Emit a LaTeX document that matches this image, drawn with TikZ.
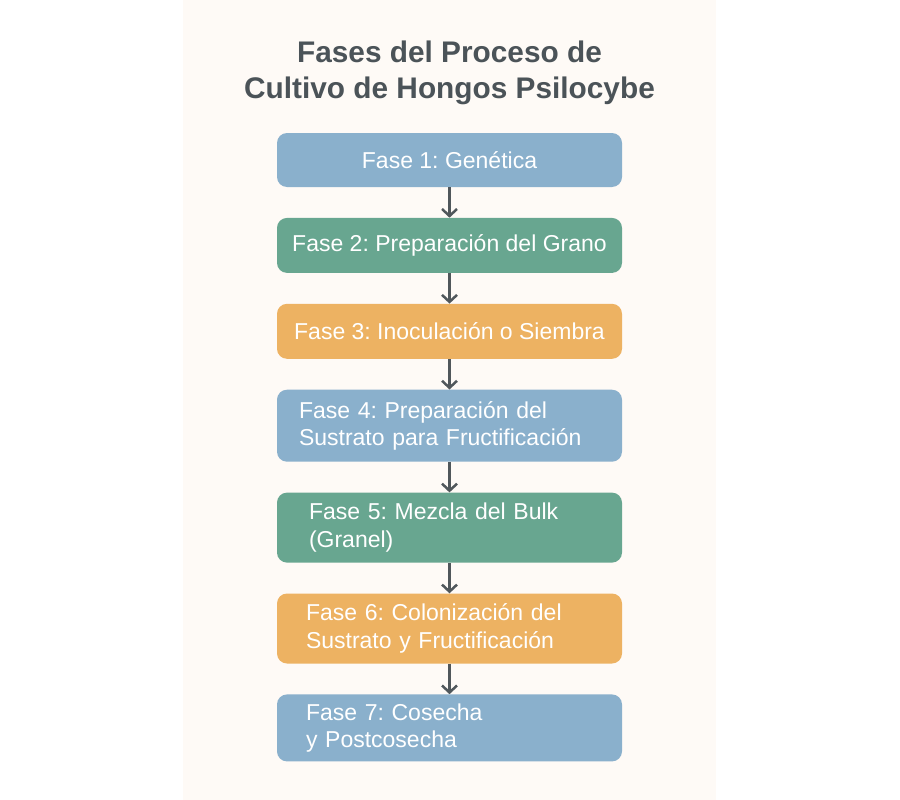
\documentclass[tikz,border=0pt]{standalone}
\usepackage{fontspec}
\setmainfont{Liberation Sans}
\usepackage{tikz}
\usetikzlibrary{arrows.meta}
\usetikzlibrary{positioning}
\frenchspacing
\definecolor{crema}{HTML}{FEFAF6}
\definecolor{tinta}{HTML}{4B5358}
\definecolor{flechagris}{HTML}{50575B}
\definecolor{azul}{HTML}{8AB0CC}
\definecolor{verde}{HTML}{68A690}
\definecolor{naranja}{HTML}{EDB262}
\tikzset{
  fase/.style={rounded corners=10pt,minimum width=345pt,text=white,
    inner xsep=0pt,inner ysep=0pt,font={\fontsize{23}{27.5}\selectfont}},
  dos lineas/.style={align=left,text width=#1},
  titulo/.style={align=center,text=tinta,inner sep=0pt,
    font={\bfseries\fontsize{29.8}{36}\selectfont}},
  flecha/.style={draw=flechagris,line width=2.5pt,
    -{Straight Barb[length=7pt,width=15pt,line width=2.5pt]}}
}

\begin{document}
\begin{tikzpicture}[x=1pt,y=-1pt,node distance=30.5pt]
  \fill[white] (0,0) rectangle (900,800);
  \fill[crema] (183,0) rectangle (716,800);
  \useasboundingbox (0,0) rectangle (900,800);
  \node [titulo] (titulo) at (449.5,72.4) {Fases del Proceso de\\Cultivo de Hongos Psilocybe};
  % las siete fases
  \node [fase,fill=azul,minimum height=54pt] (f1) at (449.5,160) {Fase 1: Genética};
  \node [fase,fill=verde,minimum height=55pt,below=of f1] (f2) {Fase 2: Preparación del Grano};
  \node [fase,fill=naranja,minimum height=55pt,below=of f2] (f3) {Fase 3: Inoculación o Siembra};
  \node [fase,fill=azul,minimum height=72pt,dos lineas=301pt,below=of f3] (f4)
    {Fase 4: Preparación del\\Sustrato para Fructificación};
  \node [fase,fill=verde,minimum height=70pt,dos lineas=281pt,below=of f4] (f5)
    {Fase 5: Mezcla del Bulk\\(Granel)};
  \node [fase,fill=naranja,minimum height=70pt,dos lineas=287pt,below=of f5] (f6)
    {Fase 6: Colonización del\\Sustrato y Fructificación};
  \node [fase,fill=azul,minimum height=67pt,dos lineas=287pt,below=of f6] (f7)
    {Fase 7: Cosecha\\y Postcosecha};
  % flechas
  \foreach \a/\b in {f1/f2,f2/f3,f3/f4,f4/f5,f5/f6,f6/f7}
    \draw [flecha] (\a) -- (\b);
\end{tikzpicture}
\end{document}
